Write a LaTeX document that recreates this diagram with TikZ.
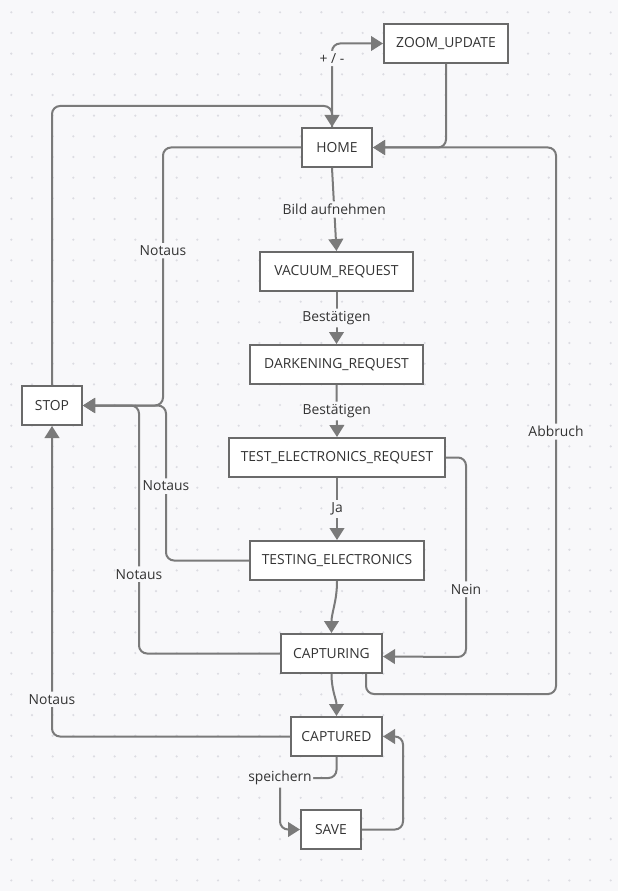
\documentclass[tikz,border=0pt]{standalone}
\usepackage{fontspec}
\setmainfont{Open Sans}
\usepackage{tikz}
\usetikzlibrary{arrows.meta}
\definecolor{canvas}{HTML}{F8F8FA}
\definecolor{griddot}{HTML}{DCDCE2}
\definecolor{wiregray}{HTML}{7A7A7A}
\definecolor{framegray}{HTML}{6A6A6A}
\definecolor{ink}{HTML}{333333}

\begin{document}
\begin{tikzpicture}[x=0.75pt,y=-0.75pt,
  state/.style={draw=framegray, line width=1.5pt, fill=white, text=ink, minimum height=29.25pt, inner sep=0pt, font=\fontsize{10.4}{12}\selectfont},
  flow/.style={draw=wiregray, line width=1.5pt, rounded corners=6pt, -{Triangle[length=9pt,width=11pt]}},
  lbl/.style={fill=canvas, text=ink, inner xsep=1pt, inner ysep=2pt, font=\fontsize{10.4}{12}\selectfont}]
\fill[canvas] (0,0) rectangle (618,891);
\useasboundingbox (0,0) rectangle (618,891);
\foreach \i in {0,...,29}
  \foreach \j in {0,...,43}
    \fill[griddot] (11.3+20.67*\i,12.3+20.67*\j) circle (0.9pt);
%
\node[state, minimum width=93pt] (zoom) at (446,43.5) {ZOOM\_UPDATE};
\node[state, minimum width=52.5pt] (home) at (337,147.5) {HOME};
\node[state, minimum width=114.75pt] (vacuum) at (336.5,271.5) {VACUUM\_REQUEST};
\node[state, minimum width=129.75pt] (darken) at (336.5,364.5) {DARKENING\_REQUEST};
\node[state, minimum width=162pt] (testreq) at (337,457.5) {TEST\_ELECTRONICS\_REQUEST};
\node[state, minimum width=130.5pt] (testing) at (337,560.5) {TESTING\_ELECTRONICS};
\node[state, minimum width=75.75pt] (capturing) at (331.5,653.5) {CAPTURING};
\node[state, minimum width=68.25pt] (captured) at (336.5,736.5) {CAPTURED};
\node[state, minimum width=45pt] (save) at (331,829.5) {SAVE};
\node[state, minimum width=45pt] (stop) at (52,405.5) {STOP};
%
\draw[flow] ([xshift=-3.75pt]home.north) |- node[lbl,pos=0.41]{+ / -} (zoom.west);
\draw[flow] (zoom.south) |- (home.east);
\draw[flow] (stop.north) |- (332,106) -- ([xshift=-3.75pt]home.north);
%
\draw[flow] ([xshift=-3.75pt]home.south) -- node[lbl]{Bild aufnehmen} (vacuum.north);
\draw[flow] (vacuum.south) -- node[lbl]{Bestätigen} (darken.north);
\draw[flow] (darken.south) -- node[lbl]{Bestätigen} (testreq.north);
\draw[flow] (testreq.south) -- node[lbl]{Ja} (testing.north);
\draw[flow] (testing.south) to[out=-90,in=90] (capturing.north);
\draw[flow] (capturing.south) to[out=-90,in=90] (captured.north);
%
\draw[flow] (testreq.east) -| node[lbl,pos=0.83]{Nein} (466,657) -- ([yshift=-2.25pt]capturing.east);
\draw[flow] ([xshift=25.875pt]capturing.south) |- (556,694) -- node[lbl,pos=0.48]{Abbruch} (556,147.5) -- (home.east);
%
\draw[flow] (home.west) -| node[lbl,pos=0.7]{Notaus} (163,405.5) -- (stop.east);
\draw[flow] (testing.west) -| node[lbl,pos=0.74]{Notaus} (166,405.5) -- (stop.east);
\draw[flow] (capturing.west) -| node[lbl,pos=0.66]{Notaus} (139,405.5) -- (stop.east);
\draw[flow] (captured.west) -| node[lbl,pos=0.56]{Notaus} (stop.south);
%
\draw[flow] (captured.south) |- node[lbl,pos=1]{speichern} (280,778) |- (save.west);
\draw[flow] (save.east) -| ([xshift=15pt]captured.east) -- (captured.east);
\end{tikzpicture}
\end{document}
